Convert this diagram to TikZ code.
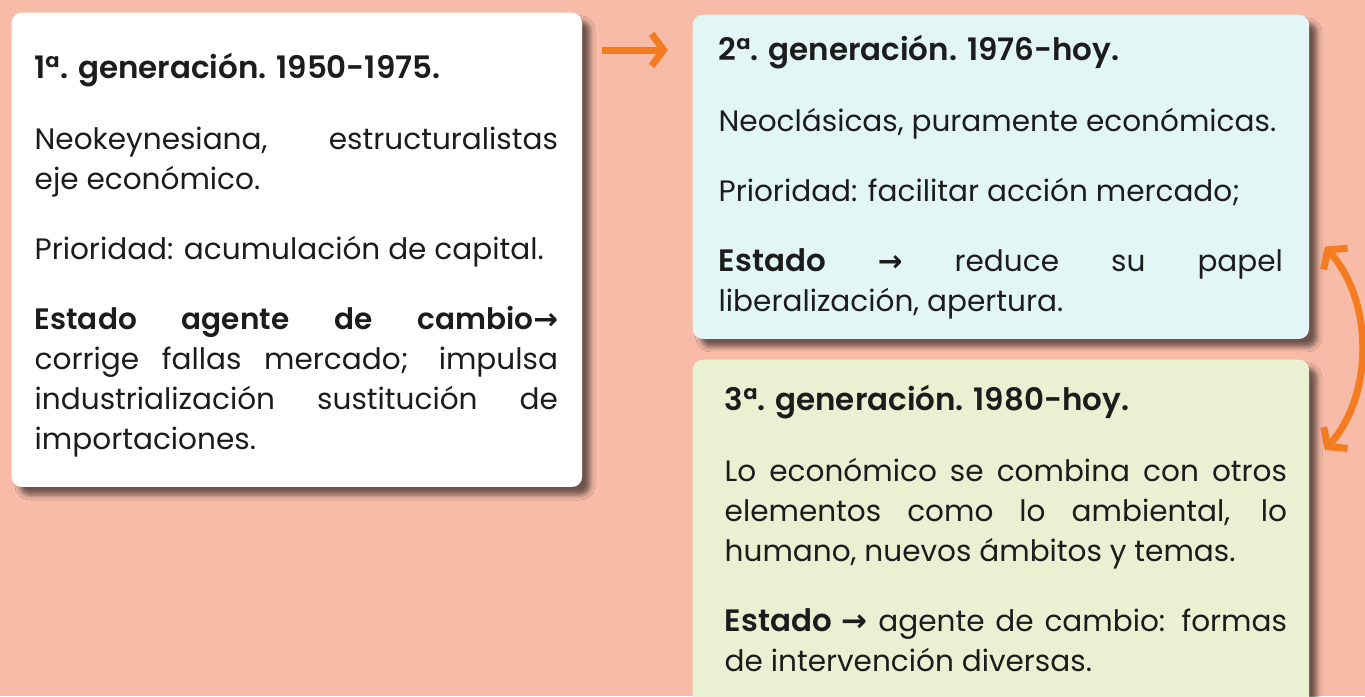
\documentclass[tikz,border=0pt]{standalone}
\usepackage{fontspec}
\setmainfont{Poppins}[BoldFont={Poppins SemiBold}]
\newfontfamily\symfont{DejaVu Sans}
\usetikzlibrary{arrows.meta,shadows.blur}

\definecolor{fondo}{HTML}{F7BBA7}
\definecolor{naranja}{HTML}{F47B20}
\definecolor{celeste}{HTML}{E3F6F6}
\definecolor{verdoso}{HTML}{EAF0D2}
\definecolor{tinta}{HTML}{1C1C1C}

\newcommand{\flecha}{{\symfont\bfseries →}}
\newcommand{\resalta}[1]{{\fontsize{8.8}{11.4}\selectfont\bfseries #1}}

\tikzset{
  caja/.style={rounded corners=0.1cm, anchor=north west, inner sep=0pt,
    blur shadow={shadow xshift=0.08cm, shadow yshift=-0.08cm,
      shadow blur radius=0.05cm, shadow opacity=55}},
  texto/.style={anchor=north west, inner sep=0pt, align=justify, text=tinta,
    font=\fontsize{8.4}{11.4}\selectfont},
  enlace/.style={draw=naranja, line width=0.07cm,
    -{Straight Barb[length=0.12cm, width=0.32cm]}}
}

\begin{document}
\begin{tikzpicture}[x=0.01cm, y=-0.01cm]
    \useasboundingbox (0,0) rectangle (1365,696);
    \clip (0,0) rectangle (1365,696);
    \fill[fondo] (0,0) rectangle (1365,696);

    % cajas
    \node[caja, fill=white, minimum width=5.70cm, minimum height=4.74cm] (box1) at (11,12) {};
    \node[caja, fill=celeste, minimum width=6.16cm, minimum height=3.24cm] (box2) at (692,14) {};
    \node[caja, fill=verdoso, minimum width=6.16cm, minimum height=3.60cm] (box3) at (692,359) {};

    % textos
    \node[texto, text width=5.23cm] (gen1) at ([shift={(23,40)}]box1.north west) {%
      \resalta{1ª. generación. 1950-1975.}\par\vspace{0.31cm}
      Neokeynesiana, estructuralistas\linebreak eje económico.\par\vspace{0.30cm}
      Prioridad: acumulación de capital.\par\vspace{0.30cm}
      \textbf{Estado agente de cambio\flecha}\linebreak corrige fallas mercado; impulsa\linebreak
      industrialización sustitución de\linebreak importaciones.};

    \node[texto, text width=5.64cm] (gen2) at ([shift={(26,20)}]box2.north west) {%
      \resalta{2ª. generación. 1976-hoy.}\par\vspace{0.31cm}
      Neoclásicas, puramente económicas.\par\vspace{0.30cm}
      Prioridad: facilitar acción mercado;\par\vspace{0.30cm}
      \resalta{Estado} \flecha{} reduce su papel\linebreak liberalización, apertura.};

    \node[texto, text width=5.62cm] (gen3) at ([shift={(32,25)}]box3.north west) {%
      \resalta{3ª. generación. 1980-hoy.}\par\vspace{0.31cm}
      Lo económico se combina con otros\linebreak elementos como lo ambiental, lo\linebreak
      humano, nuevos ámbitos y temas.\par\vspace{0.30cm}
      \resalta{Estado \flecha} agente de cambio: formas\linebreak de intervención diversas.};

    % flechas
    \draw[enlace] ([shift={(19,38)}]box1.north east) -- ([shift={(-24,36)}]box2.north west);
    \draw[enlace, {Straight Barb[length=0.12cm, width=0.32cm]}-{Straight Barb[length=0.12cm, width=0.32cm]}]
      ([shift={(15,-93)}]box2.south east) .. controls +(49,55) and +(49,-55) .. ([shift={(15,91)}]box3.north east);
\end{tikzpicture}
\end{document}
